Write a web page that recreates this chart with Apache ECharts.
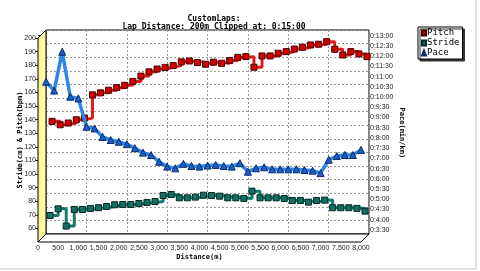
<!DOCTYPE html>
<html>
<head>
<meta charset="utf-8">
<script src="https://cdn.jsdelivr.net/npm/echarts@6/dist/echarts.min.js"></script>
<style>html,body{margin:0;padding:0;background:#fff}#c{width:480px;height:271px}</style>
</head>
<body>
<div id="c"></div>
<script>
// ---- data ----
const distances = [200,400,600,800,1000,1200,1400,1600,1800,2000,2200,2400,2600,2800,3000,3200,3400,3600,3800,4000,
                   4200,4400,4600,4800,5000,5200,5400,5600,5800,6000,6200,6400,6600,6800,7000,7200,7400,7600,7800,8000];
const pitch = [138.7,136.2,137.5,139.9,141.1,158.2,159.7,161.6,163.5,165.2,168.1,172.0,175.1,177.2,178.4,179.7,182.5,183.1,181.9,180.7,
               182.2,181.4,183.4,185.8,186.3,178.5,186.8,186.8,188.8,190.0,191.9,193.2,194.9,195.4,197.3,191.7,187.5,190.0,188.3,186.3];
const stride = [69.5,74.4,61.7,73.9,73.9,74.7,75.2,76.1,77.4,77.6,77.6,78.3,79.1,79.8,84.2,84.9,82.5,82.5,83.0,84.4,
                84.2,83.7,82.5,82.5,82.0,87.4,82.5,82.5,82.5,82.0,80.5,80.5,79.3,80.5,80.8,75.2,75.2,75.2,74.7,72.7];
// pace in seconds per km
const pace = [645,619,733,601,596,513,508,483,474,469,462,450,437,430,410,396,391,404,398,396,
              399,401,398,396,406,381,391,394,388,388,388,388,386,384,377,416,427,430,430,445];
const seriesNames = ['Pitch','Stride','Pace'];
const titleLines = ['CustomLaps:','Lap Distance: 200m Clipped at: 0:15:00'];

// ---- layout ----
const FX = 38, FY = 38, W = 323, H = 204, D = 8;   // front plane + depth
const mono = 'DejaVu Sans Mono';
const narrow = '"Liberation Sans Narrow","Liberation Sans",sans-serif';

function fmtDist(v){ return String(v).replace(/\B(?=(\d{3})+(?!\d))/g, ','); }
function fmtPace(v){ const m = Math.floor(v/60), s = Math.round(v%60); return '0:' + m + ':' + (s<10?'0':'') + s; }
const zip = (a) => distances.map((d,i)=>[d, a[i]]);
const hiddenX = (g) => ({gridIndex: g, type: 'value', min: 0, max: 8000, show: false});
const hiddenY = (g) => ({gridIndex: g, type: 'value', min: 50, max: 200, show: false});

const chart = echarts.init(document.getElementById('c'), null, {renderer:'canvas'});
chart.setOption({
  animation: false,
  backgroundColor: '#fff',
  title: {
    text: titleLines.join('\n'), left: 209, top: 10, textAlign: 'center',
    textStyle: {fontFamily: mono, fontWeight: 'bold', fontSize: 8, lineHeight: 8, color: '#000'}
  },
  legend: {
    orient: 'vertical', left: 418, top: 27,
    data: [{name:'Pitch', icon:'rect'},{name:'Stride', icon:'rect'},{name:'Pace', icon:'triangle'}],
    itemWidth: 4, itemHeight: 5, itemGap: 0,
    textStyle: {fontFamily: mono, fontSize: 9, lineHeight: 10, color: '#000', padding:[0,0,0,-4]},
    padding: [1,3,1,3], backgroundColor: '#fff', borderColor: '#000', borderWidth: 1,
    shadowColor: '#333', shadowOffsetX: 2, shadowOffsetY: 2, shadowBlur: 0
  },
  grid: [
    {left: FX, top: FY, width: W, height: H},                       // 0 front plane
    {left: FX + D, top: FY - D, width: W, height: H, show: true, borderColor: '#000', borderWidth: 1, backgroundColor: '#fff'}, // 1 back plane
    {left: FX, top: 35.7, width: W, height: 194.3},                  // 2 pace scale
    {left: FX + 6, top: FY, width: W, height: H},                   // 3 pitch depth
    {left: FX + 4, top: FY, width: W, height: H}                    // 4 stride depth
  ],
  xAxis: [
    {gridIndex: 0, type: 'value', min: 0, max: 8000, interval: 500,
     axisLine: {show: false}, axisTick: {show: true, inside: true, length: 3, lineStyle: {color: '#888'}},
     splitLine: {show: false},
     axisLabel: {fontFamily: narrow, fontSize: 7, color: '#222', margin: 3, formatter: fmtDist},
     name: 'Distance(m)', nameLocation: 'middle', nameGap: 12, nameMoveOverlap: false,
     nameTextStyle: {fontFamily: mono, fontWeight: 'bold', fontSize: 7, color: '#000'}},
    {gridIndex: 1, type: 'value', min: 0, max: 8000, interval: 1000,
     axisLine: {show: false}, axisTick: {show: false}, axisLabel: {show: false},
     splitLine: {show: true, lineStyle: {type: [2,2], color: '#9a9a9a', width: 1}}},
    hiddenX(2), hiddenX(3), hiddenX(4)
  ],
  yAxis: [
    {gridIndex: 0, type: 'value', min: 50, max: 200, interval: 10,
     axisLine: {show: false}, axisTick: {show: true, length: 3, lineStyle: {color: '#333'}},
     splitLine: {show: false},
     axisLabel: {fontFamily: narrow, fontSize: 7, color: '#222', margin: 2, showMinLabel: false},
     name: 'Stride(cm) & Pitch(bpm)', nameLocation: 'middle', nameRotate: 90, nameGap: 14, nameMoveOverlap: false,
     nameTextStyle: {fontFamily: mono, fontWeight: 'bold', fontSize: 7, color: '#000'}},
    {gridIndex: 1, type: 'value', min: 50, max: 200, interval: 10,
     axisLine: {show: false}, axisTick: {show: false}, axisLabel: {show: false},
     splitLine: {show: true, lineStyle: {type: [2,2], color: '#9a9a9a', width: 1}}},
    {gridIndex: 2, type: 'value', position: 'right', offset: D, min: 210, max: 780, interval: 30,
     axisLine: {show: false}, axisTick: {show: true, length: 3, lineStyle: {color: '#333'}},
     splitLine: {show: false},
     axisLabel: {fontFamily: narrow, fontSize: 7, color: '#222', margin: 1, formatter: fmtPace},
     name: 'Pace(min/km)', nameLocation: 'middle', nameRotate: -90, nameGap: 29, nameMoveOverlap: false,
     nameTextStyle: {fontFamily: mono, fontWeight: 'bold', fontSize: 7, color: '#000'}},
    hiddenY(3), hiddenY(4)
  ],
  graphic: [
    {type: 'rect', silent: true, z: -10, shape: {x: -1, y: -1, width: 477, height: 270},
     style: {fill: 'none', stroke: '#c4c4c4', lineWidth: 1}},
    {type: 'polygon', silent: true, z: 1,
     shape: {points: [[FX, FY], [FX + D, FY - D], [FX + D, FY + H - D], [FX, FY + H]]},
     style: {fill: new echarts.graphic.LinearGradient(0,0,1,0,[{offset:0,color:'#fbf58a'},{offset:1,color:'#fffcb0'}]),
             stroke: '#000', lineWidth: 1}},
    {type: 'polygon', silent: true, z: 1,
     shape: {points: [[FX, FY + H], [FX + D, FY + H - D], [FX + D + W, FY + H - D], [FX + W, FY + H]]},
     style: {fill: '#fff', stroke: '#000', lineWidth: 1}}
  ],
  series: [
    {name: seriesNames[0], type: 'line', xAxisIndex: 3, yAxisIndex: 3, data: zip(pitch), step: 'end', clip: false,
     symbol: 'rect', symbolSize: 6, z: 3,
     lineStyle: {color: '#e41a1a', width: 3},
     itemStyle: {color: '#d00000', borderColor: '#4a0000', borderWidth: 1}},
    {name: seriesNames[1], type: 'line', xAxisIndex: 4, yAxisIndex: 4, data: zip(stride), step: 'end', clip: false,
     symbol: 'rect', symbolSize: 6, z: 4,
     lineStyle: {color: '#137a6d', width: 3},
     itemStyle: {color: '#127062', borderColor: '#002a24', borderWidth: 1}},
    {name: seriesNames[2], type: 'line', xAxisIndex: 2, yAxisIndex: 2, data: zip(pace), clip: false,
     symbol: 'triangle', symbolSize: 7, z: 5,
     lineStyle: {color: '#2b88e8', width: 3.5},
     itemStyle: {color: '#1c5fc8', borderColor: '#0b2a6a', borderWidth: 1}}
  ]
});
</script>
</body>
</html>
